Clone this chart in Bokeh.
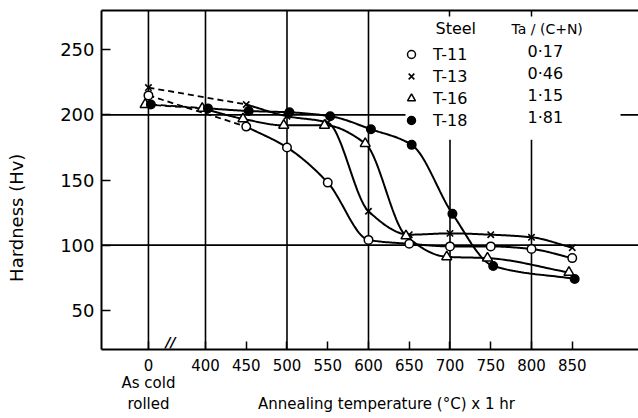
import numpy as np
from bokeh.plotting import figure
from bokeh.models import (Range1d, FixedTicker, LinearAxis, Span, Label,
                          Legend, LegendItem, ColumnDataSource)
from bokeh.embed import file_html
from bokeh.resources import INLINE

# ---- data: Vickers hardness after 1 h anneals (0 = as cold rolled) ----
TICK_TEMPS = [0, 400, 450, 500, 550, 600, 650, 700, 750, 800, 850]
TICK_LABELS = ["0", "400", "450", "500", "550", "600", "650", "700", "750", "800", "850"]
HV_TICKS = [50, 100, 150, 200, 250]

steel_names = ["T-11", "T-13", "T-16", "T-18"]
ta_ratio = ["0·17", "0·46", "1·15", "1·81"]

t11_temp = [0, 450, 500, 550, 600, 650, 700, 750, 800, 850]
t11_hv = [215, 191, 175, 148, 104, 101, 99, 99, 97, 90]

t13_temp = [0, 450, 500, 550, 600, 650, 700, 750, 800, 850]
t13_hv = [221, 208, 199, 194, 126, 108, 109, 108, 106, 98]

t16_temp = [0, 400, 450, 500, 550, 600, 650, 700, 750, 850]
t16_hv = [208, 205, 197, 192, 192, 178, 107, 91, 90, 79]

t18_temp = [0, 400, 450, 500, 550, 600, 650, 700, 750, 850]
t18_hv = [208, 205, 203, 202, 199, 189, 177, 124, 84, 74]

# ---- layout ----
AS_ROLLED_X = 330          # axis position used for the as-cold-rolled state
X_START, X_END = 272.4, 931.3
Y_START, Y_END = 19.8, 280.2
W, H = 638, 418
LEFT, RIGHT, TOP, BOTTOM = 101, 0, 10, 69
FRAME_W = W - LEFT - RIGHT
FRAME_H = H - TOP - BOTTOM
FONT = "DejaVu Sans"
X_TITLE_AT = 622           # x position of the temperature axis title
Y_TITLE_AT = 121           # y position of the hardness axis title


def dx(px):
    return X_START + (px - LEFT) * (X_END - X_START) / FRAME_W


def dy(py):
    return Y_END - (py - TOP) * (Y_END - Y_START) / FRAME_H


def axis_pos(t):
    return AS_ROLLED_X if t == 0 else t


def pchip(xs, ys, per=30):
    x = np.asarray(xs, float)
    y = np.asarray(ys, float)
    h = np.diff(x)
    d = np.diff(y) / h
    m = np.zeros_like(y)
    m[0], m[-1] = d[0], d[-1]
    for k in range(1, len(x) - 1):
        if d[k - 1] * d[k] <= 0:
            m[k] = 0.0
        else:
            w1 = 2 * h[k] + h[k - 1]
            w2 = h[k] + 2 * h[k - 1]
            m[k] = (w1 + w2) / (w1 / d[k - 1] + w2 / d[k])
    ox, oy = [], []
    for k in range(len(x) - 1):
        t = np.linspace(0, 1, per, endpoint=(k == len(x) - 2))
        h00 = 2 * t**3 - 3 * t**2 + 1
        h10 = t**3 - 2 * t**2 + t
        h01 = -2 * t**3 + 3 * t**2
        h11 = t**3 - t**2
        oy.extend(h00 * y[k] + h10 * h[k] * m[k] + h01 * y[k + 1] + h11 * h[k] * m[k + 1])
        ox.extend(x[k] + t * h[k])
    return ox, oy


def text(x, y, s, size="15px", **kw):
    kw.setdefault("text_color", "black")
    p.add_layout(Label(x=x, y=y, text=s, text_font=FONT, text_font_size=size,
                       level="overlay", **kw))


def style_axis(ax, size):
    ax.axis_line_width = 2
    ax.axis_line_color = "black"
    ax.major_tick_line_width = 1.5
    ax.major_tick_line_color = "black"
    ax.major_tick_out = 0
    ax.minor_tick_line_color = None
    ax.major_label_text_font = FONT
    ax.major_label_text_font_size = size
    ax.major_label_text_color = "black"


def text_only(ax):
    ax.axis_line_color = None
    ax.major_tick_line_color = None
    ax.major_tick_in = 0


p = figure(width=W, height=H, x_range=Range1d(X_START, X_END),
           y_range=Range1d(Y_START, Y_END), output_backend="svg",
           toolbar_location=None, x_axis_type=None, y_axis_type=None,
           min_border_left=LEFT, min_border_right=RIGHT,
           min_border_top=TOP, min_border_bottom=BOTTOM)
p.outline_line_color = None
p.xgrid.visible = False
p.ygrid.visible = False
p.background_fill_color = "white"
p.border_fill_color = "white"

# ---- axes ----
xt = [axis_pos(t) for t in TICK_TEMPS]
xaxis = LinearAxis(ticker=FixedTicker(ticks=xt),
                   major_label_overrides={v: s for v, s in zip(xt, TICK_LABELS)})
style_axis(xaxis, "15px")
xaxis.major_tick_in = 8
xaxis.major_label_standoff = 9

# second row under the temperatures: the as-rolled note and the axis title
xnote = LinearAxis(ticker=FixedTicker(ticks=[AS_ROLLED_X, X_TITLE_AT]),
                   major_label_overrides={
                       AS_ROLLED_X: "As cold\nrolled",
                       X_TITLE_AT: "\nAnnealing temperature (°C) x 1 hr"})
style_axis(xnote, "15px")
text_only(xnote)
xnote.major_label_standoff = 0

yaxis = LinearAxis(ticker=FixedTicker(ticks=HV_TICKS))
style_axis(yaxis, "18px")
yaxis.major_tick_in = 9
yaxis.major_label_standoff = 7

ytitle = LinearAxis(ticker=FixedTicker(ticks=[Y_TITLE_AT]),
                    major_label_overrides={Y_TITLE_AT: "Hardness (Hv)"},
                    major_label_orientation="vertical")
style_axis(ytitle, "18px")
text_only(ytitle)
ytitle.major_label_standoff = 30

topaxis = LinearAxis(ticker=FixedTicker(ticks=[700, 800]))
style_axis(topaxis, "1px")
topaxis.major_tick_in = 6
topaxis.major_label_standoff = 0
topaxis.major_label_text_alpha = 0

p.add_layout(xaxis, "below")
p.add_layout(xnote, "below")
p.add_layout(yaxis, "left")
p.add_layout(ytitle, "left")
p.add_layout(topaxis, "above")

# ---- grid lines ----
p.add_layout(Span(location=100, dimension="width", line_color="black",
                  line_width=1.6, level="underlay"))
for xv in (AS_ROLLED_X, 400, 500, 600):
    p.add_layout(Span(location=xv, dimension="height", line_color="black",
                      line_width=1.6, level="underlay"))
# 200 line stops at the key; 700/800 lines start below it
p.segment(x0=[X_START, dx(620)], x1=[dx(405), X_END], y0=[200, 200], y1=[200, 200],
          line_color="black", line_width=1.6)
p.segment(x0=[700, 800], x1=[700, 800], y0=[Y_START, Y_START], y1=[181, 181],
          line_color="black", line_width=1.6)

# ---- series ----
series = [
    (t11_temp, t11_hv, 0, dict(marker="circle", size=8.5, fill_color="white", line_width=1.5)),
    (t13_temp, t13_hv, 0, dict(marker="x", size=9, line_width=1.6)),
    (t16_temp, t16_hv, -4, dict(marker="triangle", size=10, fill_color="white", line_width=1.5)),
    (t18_temp, t18_hv, 3, dict(marker="circle", size=8.5, fill_color="black", line_width=1.5)),
]

marker_renderers = []
for temps, hv, shift, mstyle in series:
    xs = [axis_pos(t) + shift for t in temps]
    # dashed link from the as-rolled state to the first anneal
    p.line(xs[:2], hv[:2], line_color="black", line_width=1.8, line_dash="6 4")
    cx, cy = pchip(xs[1:], hv[1:])
    p.line(cx, cy, line_color="black", line_width=2)

for temps, hv, shift, mstyle in series:
    xs = [axis_pos(t) + shift for t in temps]
    src = ColumnDataSource(dict(x=xs, y=hv))
    r = p.scatter("x", "y", source=src, line_color="black", **mstyle)
    marker_renderers.append(r)

# ---- key ----
legend = Legend(items=[LegendItem(label=n, renderers=[r])
                       for n, r in zip(steel_names, marker_renderers)],
                location=(300, 219), orientation="vertical",
                glyph_width=20, glyph_height=20, label_height=20,
                label_standoff=12, spacing=2, padding=0,
                margin=0, border_line_color=None,
                background_fill_alpha=0.0,
                label_text_font=FONT, label_text_font_size="16px",
                label_text_color="black")
p.add_layout(legend, "center")

text(dx(435), dy(37), "Steel", "16px")
text(dx(511), dy(36), "Ta / (C+N)", "14px")
for i, rv in enumerate(ta_ratio):
    text(dx(527), dy(60 + 22 * i), rv, "16px")

# axis break mark
text(dx(170), Y_START, "//", "14px", text_align="center", text_baseline="bottom",
     text_font_style="bold italic")

open("out.html", "w").write(file_html(p, INLINE))
